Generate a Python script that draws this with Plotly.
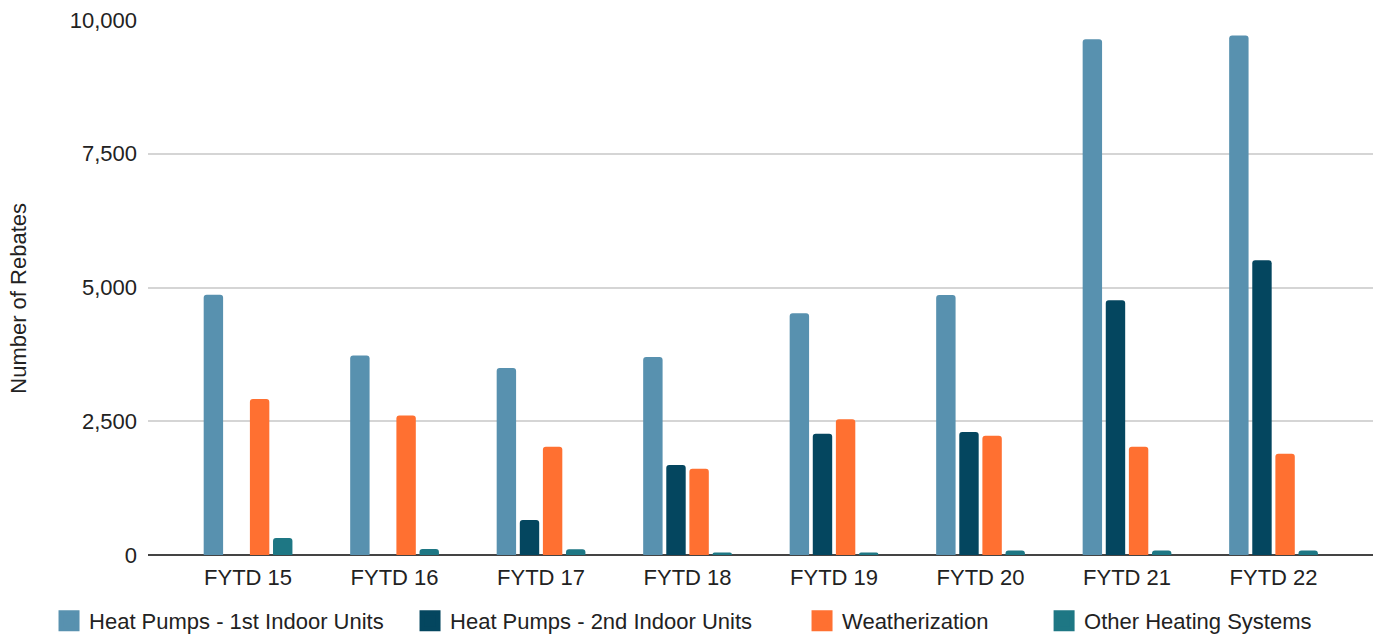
import plotly.graph_objects as go

# Fiscal years shown on the category axis
years = ["FYTD 15", "FYTD 16", "FYTD 17", "FYTD 18", "FYTD 19", "FYTD 20", "FYTD 21", "FYTD 22"]

# Rebate counts per program and year
hp_first = [4865, 3730, 3495, 3700, 4520, 4858, 9640, 9712]
hp_second = [None, None, 655, 1682, 2265, 2298, 4762, 5510]
weatherization = [2918, 2608, 2022, 1613, 2536, 2228, 2022, 1892]
other_heating = [318, 110, 108, 45, 45, 82, 82, 82]

series_names = [
    "Heat Pumps - 1st Indoor Units",
    "Heat Pumps - 2nd Indoor Units",
    "Weatherization",
    "Other Heating Systems",
]
series_values = [hp_first, hp_second, weatherization, other_heating]
series_colors = ["#5891AF", "#04465F", "#FF7031", "#1E7784"]

y_ticks = [0, 2500, 5000, 7500, 10000]
y_tick_text = ["0", "2,500", "5,000", "7,500", "10,000"]

FONT = "Liberation Sans, Arial, Helvetica, sans-serif"
TEXT_COLOR = "#222222"

fig = go.Figure()

for name, vals, color in zip(series_names, series_values, series_colors):
    fig.add_trace(go.Bar(
        x=years, y=vals, name=name,
        marker=dict(color=color, line=dict(width=0)),
        showlegend=False,
        hoverinfo="x+y+name",
    ))

# Legend entries, each in its own legend box so they can be laid out freely
legend_keys = ["legend", "legend2", "legend3", "legend4"]
for name, color, key in zip(series_names, series_colors, legend_keys):
    fig.add_trace(go.Scatter(
        x=[None], y=[None], name=name, mode="markers",
        marker=dict(symbol="square", size=16, color=color,
                    line=dict(width=5, color=color)),
        legend=key, showlegend=True, hoverinfo="skip",
    ))

legend_x = [-0.0808, 0.2139, 0.5339, 0.7315]
legend_layout = {}
for key, lx in zip(legend_keys, legend_x):
    legend_layout[key] = dict(
        x=lx, y=-0.1234, xanchor="left", yanchor="middle",
        orientation="h", bgcolor="rgba(0,0,0,0)", itemsizing="trace",
        font=dict(family=FONT, size=22, color=TEXT_COLOR),
    )

fig.update_layout(
    width=1376, height=637,
    margin=dict(l=148, r=3, t=20, b=82, autoexpand=False),
    paper_bgcolor="white", plot_bgcolor="white",
    barmode="group", bargap=0.369, bargroupgap=0.16,
    barcornerradius=3,
    font=dict(family=FONT, size=22, color=TEXT_COLOR),
    **legend_layout,
)

# Vertical axis title, set slightly below the plot's middle
fig.add_annotation(
    text="Number of Rebates", textangle=-90,
    xref="paper", yref="paper", x=-0.1053, y=0.479,
    xanchor="center", yanchor="middle", showarrow=False,
    font=dict(family=FONT, size=22, color=TEXT_COLOR),
)

fig.update_xaxes(
    type="category", categoryorder="array", categoryarray=years,
    range=[-0.683, 7.679],
    showgrid=False, showline=False, zeroline=False,
    ticks="", ticklabelstandoff=7,
    tickfont=dict(family=FONT, size=22, color=TEXT_COLOR),
    fixedrange=True,
)

fig.update_yaxes(
    range=[0, 10000], tickvals=y_ticks, ticktext=y_tick_text,
    showgrid=True, gridcolor="#D5D5D5", gridwidth=1.5,
    zeroline=True, zerolinecolor="#444444", zerolinewidth=1.5,
    showline=False, ticks="", ticklabelstandoff=10,
    tickfont=dict(family=FONT, size=22, color=TEXT_COLOR),
    fixedrange=True,
)

fig.write_html("out.html", config={"displayModeBar": False})
